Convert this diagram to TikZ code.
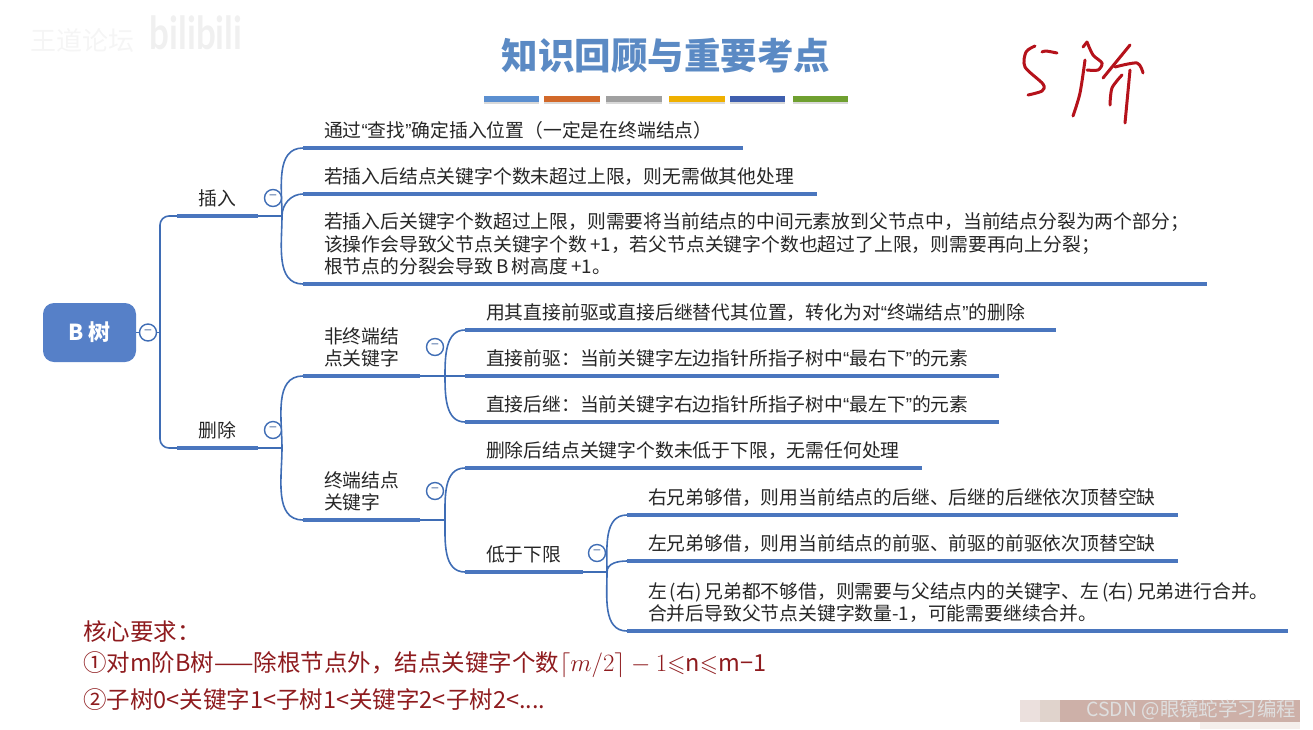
\documentclass[tikz,border=0pt]{standalone}
\usepackage{amssymb}
\usepackage{fontspec}
\setmainfont{Noto Sans CJK SC}
\newfontfamily\logofont{Lato}
\newfontfamily\qtfont{Liberation Sans}
\newcommand{\qt}[1]{{\qtfont“}#1{\qtfont”}}
\usetikzlibrary{shadows}
\definecolor{linkc}{HTML}{3F6DB5}
\definecolor{barc}{HTML}{4A76BE}
\definecolor{rootc}{HTML}{5680C8}
\definecolor{titlec}{HTML}{5B8AC4}
\definecolor{notec}{HTML}{8E1B1E}
\definecolor{inkc}{HTML}{B5121B}
\definecolor{textc}{HTML}{262626}
\definecolor{patcha}{HTML}{EBE0DD}
\definecolor{patchb}{HTML}{E0D3CC}
\definecolor{patchc}{HTML}{CDB0A8}
\definecolor{patchd}{HTML}{F5EFEC}
\definecolor{accenta}{HTML}{5B8FD0}
\definecolor{accentb}{HTML}{D2692A}
\definecolor{accentc}{HTML}{A0A0A0}
\definecolor{accentd}{HTML}{EFB000}
\definecolor{accente}{HTML}{3F5FAE}
\definecolor{accentf}{HTML}{6FA030}
\tikzset{
  link/.style={draw=linkc, line width=1.6pt},
  bar/.style={draw=barc, line width=4.6pt},
  topic/.style={anchor=south west, outer sep=0pt, inner xsep=21pt, inner ysep=4pt, text width={#1pt-42pt}, align=left, text=textc, font=\fontsize{18.8}{22.2}\selectfont, execute at end node=\strut},
  branch/.style={topic=#1, inner xsep=10pt, text width={#1pt-20pt}, align=center},
  fold/.style={circle, draw=linkc, line width=1.4pt, fill=white, minimum size=17pt, inner sep=0pt, text=linkc!70!gray, font=\fontsize{14}{14}\selectfont},
  accent/.style={fill=#1, drop shadow={shadow xshift=0pt, shadow yshift=-1.5pt, opacity=0.3}},
  note/.style={anchor=west, text=notec, inner sep=0pt, font=\fontsize{23.5}{28}\selectfont},
  ink/.style={draw=inkc, line width=3pt, line cap=round, line join=round},
}
\begin{document}
\begin{tikzpicture}[x=1pt,y=-1pt]
\useasboundingbox (0,0) rectangle (1313,729);
\node[text=gray!8, font=\fontsize{26}{26}\selectfont] (wmark) at (82,41) {王道论坛};
\node[text=gray!12, font=\logofont\bfseries\fontsize{35}{35}\selectfont, yscale=1.3, transform shape] (wlogo) at (196,33) {bilibili};
\node[text=titlec, font=\bfseries\fontsize{36.5}{36.5}\selectfont] (title) at (666,56) {知识回顾与重要考点};
\foreach \xa/\xb/\col in {484/539/accenta, 544/600/accentb, 606/662/accentc, 669/725/accentd, 730/785/accente, 793/848/accentf}
  \fill[accent=\col] (\xa,96) rectangle (\xb,102);

\node[fill=rootc, rounded corners=11pt, minimum width=93pt, minimum height=59pt, inner sep=0pt, text=white, font=\bfseries\fontsize{22}{22}\selectfont] (root) at (89.5,332.5) {B 树};
\node[branch=81] (insert) at (177,216) {插入};
\node[branch=81] (delete) at (177,448) {删除};

\node[topic=440] (ins1) at (303,148) {通过\qt{查找}确定插入位置（一定是在终端结点）};
\node[topic=514] (ins2) at (303,194) {若插入后结点关键字个数未超过上限，则无需做其他处理};
\node[topic=904] (ins3) at (303,284) {若插入后关键字个数超过上限，则需要将当前结点的中间元素放到父节点中，当前结点分裂为两个部分；\\该操作会导致父节点关键字个数\,+1，若父节点关键字个数也超过了上限，则需要再向上分裂；\\根节点的分裂会导致\,B\,树高度\,+1。};

\node[topic=117] (nonleaf) at (303,376) {非终端结\\点关键字};
\node[topic=117] (leaf) at (303,520) {终端结点\\关键字};

\node[topic=591] (non1) at (465,330) {用其直接前驱或直接后继替代其位置，转化为对\qt{终端结点}的删除};
\node[topic=534] (non2) at (465,376) {直接前驱：当前关键字左边指针所指子树中\qt{最右下}的元素};
\node[topic=534] (non3) at (465,422) {直接后继：当前关键字右边指针所指子树中\qt{最左下}的元素};

\node[topic=457] (leaf1) at (465,468) {删除后结点关键字个数未低于下限，无需任何处理};
\node[topic=118] (leaf2) at (465,572) {低于下限};

\node[topic=551] (low1) at (627,515) {右兄弟够借，则用当前结点的后继、后继的后继依次顶替空缺};
\node[topic=551] (low2) at (627,561) {左兄弟够借，则用当前结点的前驱、前驱的前驱依次顶替空缺};
\node[topic=661] (low3) at (627,631) {\mbox{左\,(右)\,兄弟都不够借，则需要与父结点内的关键字、左\,(右)\,兄弟进行合并。}\\合并后导致父节点关键字数量-1，可能需要继续合并。};

\coordinate (trunk) at (160,332.5);
\coordinate (jins) at (282,216);
\coordinate (jdel) at (282,448);
\coordinate (jnon) at (445,376);
\coordinate (jleaf) at (445,520);
\coordinate (jlow) at (607,572);

\draw[link] (root.east) -- (trunk);
\draw[link, rounded corners=9pt] (insert.south west) -| (trunk) |- (delete.south west);
\draw[link] (insert.south east) -- (jins);
\draw[link] (delete.south east) -- (jdel);
\draw[link] (nonleaf.south east) -- (jnon);
\draw[link] (leaf.south east) -- (jleaf);
\draw[link] (leaf2.south east) -- (jlow);

\foreach \a/\b in {jins/ins1, jins/ins2, jdel/nonleaf, jnon/non1, jleaf/leaf1, jlow/low1, jlow/low2}
  \draw[link] (\a) to[out=90, in=180] (\b.south west);
\foreach \a/\b in {jins/ins3, jdel/leaf, jnon/non3, jleaf/leaf2, jlow/low3}
  \draw[link] (\a) to[out=-90, in=180] (\b.south west);
\draw[link] (jnon) -- (non2.south west);

\foreach \n in {insert, delete, ins1, ins2, ins3, nonleaf, leaf, non1, non2, non3, leaf1, leaf2, low1, low2, low3}
  \draw[bar] (\n.south west) -- (\n.south east);

\node[fold] (froot) at (148,332.5) {−};
\node[fold] (fins) at (273,198) {−};
\node[fold] (fdel) at (273,430) {−};
\node[fold] (fnon) at (435,347) {−};
\node[fold] (fleaf) at (435,491) {−};
\node[fold] (flow) at (597,553) {−};

\node[note] (core) at (83,632) {核心要求：};
\node[note] (rule1) at (83,665) {①对m阶B树——除根节点外，结点关键字个数$\lceil m/2\rceil-1$$\leqslant$n$\leqslant$m−1};
\node[note] (rule2) at (83,700) {②子树0<关键字1<子树1<关键字2<子树2<....};

\draw[ink] plot[smooth] coordinates {(1035,46) (1026,52) (1025,67) (1043,84) (1042,91) (1028,95)};
\draw[ink] plot[smooth] coordinates {(1042,52) (1046,51) (1057,53)};
\draw[ink] plot[smooth] coordinates {(1087,42) (1093,55) (1102,63) (1098,70) (1087,70)};
\draw[ink] (1083,47) -- (1087,42);
\draw[ink] plot[smooth] coordinates {(1085,60) (1080,93) (1073,116)};
\draw[ink] (1130,45) -- (1103,78);
\draw[ink] plot[smooth] coordinates {(1115,67) (1137,63) (1143,73)};
\draw[ink] plot[smooth] coordinates {(1122,75) (1112,88) (1110,105)};
\draw[ink] (1130,70) -- (1125,123);

\fill[patcha] (1020,700) rectangle (1040,722);
\fill[patchb] (1040,700) rectangle (1060,722);
\fill[patchc] (1060,700) rectangle (1300,722);
\fill[patchd] (1200,722) rectangle (1300,729);
\node[anchor=east, inner sep=0pt, text=gray!25, font=\fontsize{19.4}{19.4}\selectfont] (csdn) at (1296,710) {CSDN @眼镜蛇学习编程};
\end{tikzpicture}
\end{document}
